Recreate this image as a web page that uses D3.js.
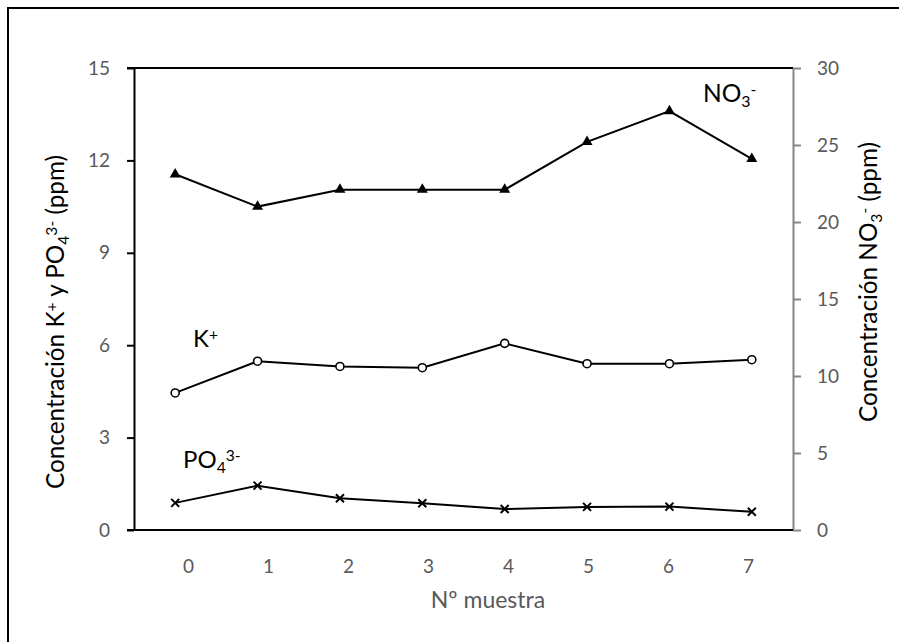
<!DOCTYPE html>
<html>
<head>
<meta charset="utf-8">
<script src="https://cdn.jsdelivr.net/npm/d3@7"></script>
<style>
  html, body { margin: 0; padding: 0; background: #fff; }
  svg { display: block; font-family: Lato, "Open Sans", sans-serif; }
</style>
</head>
<body>
<svg id="chart" width="899" height="642"></svg>
<script>
// Sample numbers along the x axis
const samples = ["0", "1", "2", "3", "4", "5", "6", "7"];
// K+ and PO4(3-) concentrations, ppm (left axis)
const kValues = [4.45, 5.48, 5.31, 5.27, 6.06, 5.40, 5.40, 5.53];
const po4Values = [0.88, 1.44, 1.03, 0.87, 0.68, 0.75, 0.76, 0.59];
// NO3(-) concentration, ppm (right axis)
const no3Values = [23.1, 21.0, 22.1, 22.1, 22.1, 25.2, 27.2, 24.1];
// Axis ticks
const leftTicks = [0, 3, 6, 9, 12, 15];
const rightTicks = [0, 5, 10, 15, 20, 25, 30];

const svg = d3.select("#chart");
const plot = { left: 134, right: 793, top: 68, bottom: 530 };
const GRAY = "#595959";
const AXIS_GRAY = "#868686";
const TICK_FONT = "19px";

// Outer chart frame
svg.append("rect")
  .attr("x", 8).attr("y", 8)
  .attr("width", 1000).attr("height", 1000)
  .attr("fill", "none").attr("stroke", "#000").attr("stroke-width", 2);

const x = d3.scaleBand().domain(samples).range([plot.left, plot.right]);
// Category labels sit on their own slightly narrower spread
const xLabel = d3.scalePoint().domain(samples).range([188, 748]);
const yL = d3.scaleLinear().domain([0, 15]).range([plot.bottom, plot.top]);
const yR = d3.scaleLinear().domain([0, 30]).range([plot.bottom, plot.top]);
const cx = d => x(d) + x.bandwidth() / 2;

// Top edge of plot area
svg.append("line")
  .attr("x1", plot.left - 7).attr("x2", plot.right)
  .attr("y1", plot.top).attr("y2", plot.top)
  .attr("stroke", "#000").attr("stroke-width", 2);

// Left axis
const gL = svg.append("g").attr("transform", `translate(${plot.left},0)`)
  .call(d3.axisLeft(yL).tickValues(leftTicks).tickSize(7).tickSizeOuter(0).tickPadding(17));
gL.select(".domain").attr("stroke", "#000").attr("stroke-width", 2);
gL.selectAll(".tick line").attr("stroke", "#000").attr("stroke-width", 2);
gL.selectAll(".tick text").attr("fill", GRAY).style("font-size", TICK_FONT).style("font-family", "Lato");

// Right axis
const gR = svg.append("g").attr("transform", `translate(${plot.right},0)`)
  .call(d3.axisRight(yR).tickValues(rightTicks).tickSize(8).tickSizeOuter(0).tickPadding(16));
gR.select(".domain").attr("stroke", AXIS_GRAY).attr("stroke-width", 2);
gR.selectAll(".tick line").attr("stroke", AXIS_GRAY).attr("stroke-width", 2);
gR.selectAll(".tick text").attr("fill", GRAY).style("font-size", TICK_FONT).style("font-family", "Lato");

// Bottom axis (labels only; the line is drawn separately)
const gB = svg.append("g").attr("transform", `translate(0,${plot.bottom})`)
  .call(d3.axisBottom(xLabel).tickSize(0).tickPadding(30));
gB.select(".domain").remove();
gB.selectAll(".tick text").attr("fill", GRAY).style("font-size", TICK_FONT).style("font-family", "Lato");
svg.append("line")
  .attr("x1", plot.left - 7).attr("x2", plot.right)
  .attr("y1", plot.bottom).attr("y2", plot.bottom)
  .attr("stroke", "#000").attr("stroke-width", 2);

// Series lines
const lineL = d3.line().x((d, i) => cx(samples[i])).y(d => yL(d));
const lineR = d3.line().x((d, i) => cx(samples[i])).y(d => yR(d));
[[no3Values, lineR], [kValues, lineL], [po4Values, lineL]].forEach(([vals, gen]) => {
  svg.append("path").datum(vals)
    .attr("d", gen).attr("fill", "none")
    .attr("stroke", "#000").attr("stroke-width", 2);
});

// NO3 markers: filled triangles
svg.append("g").selectAll("path").data(no3Values).join("path")
  .attr("transform", (d, i) => `translate(${cx(samples[i])},${yR(d)})`)
  .attr("d", d3.symbol(d3.symbolTriangle, 52))
  .attr("fill", "#000");

// K markers: open circles
svg.append("g").selectAll("circle").data(kValues).join("circle")
  .attr("cx", (d, i) => cx(samples[i])).attr("cy", d => yL(d))
  .attr("r", 4).attr("fill", "#fff").attr("stroke", "#000").attr("stroke-width", 1.6);

// PO4 markers: crosses
svg.append("g").selectAll("path").data(po4Values).join("path")
  .attr("transform", (d, i) => `translate(${cx(samples[i])},${yL(d)})`)
  .attr("d", "M-4,-4L4,4M-4,4L4,-4")
  .attr("stroke", "#000").attr("stroke-width", 2).attr("fill", "none");

// Series labels
function label(xp, yp, parts, size) {
  const t = svg.append("text").attr("x", xp).attr("y", yp)
    .style("font-size", size + "px").attr("fill", "#000");
  parts.forEach(p => {
    const s = t.append("tspan").text(p.t);
    if (p.sub) s.attr("baseline-shift", "-30%").style("font-size", (size * 0.65) + "px");
    if (p.sup) s.attr("baseline-shift", "45%").style("font-size", (size * 0.65) + "px");
  });
  return t;
}
label(703, 102, [{ t: "NO" }, { t: "3", sub: true }, { t: "-", sup: true }], 24.5);
label(193, 347, [{ t: "K" }, { t: "+", sup: true }], 24);
label(183, 468, [{ t: "PO" }, { t: "4", sub: true }, { t: "3-", sup: true }], 24);

// Axis titles
svg.append("text")
  .attr("x", 488).attr("y", 608)
  .attr("text-anchor", "middle").attr("fill", GRAY)
  .style("font-size", "23px").text("Nº muestra");

const TITLE = 24.3, SMALL = TITLE * 0.64;
const lt = svg.append("text")
  .attr("transform", "translate(64,322) rotate(-90)")
  .attr("text-anchor", "middle").attr("fill", "#000").style("font-size", TITLE + "px");
lt.append("tspan").text("Concentración K");
lt.append("tspan").text("+").attr("baseline-shift", "45%").style("font-size", SMALL + "px");
lt.append("tspan").text(" y PO");
lt.append("tspan").text("4").attr("baseline-shift", "-30%").style("font-size", SMALL + "px");
lt.append("tspan").text("3-").attr("baseline-shift", "45%").style("font-size", SMALL + "px");
lt.append("tspan").text(" (ppm)");

const rt = svg.append("text")
  .attr("transform", "translate(877,282) rotate(-90)")
  .attr("text-anchor", "middle").attr("fill", "#000").style("font-size", TITLE + "px");
rt.append("tspan").text("Concentración NO");
rt.append("tspan").text("3").attr("baseline-shift", "-30%").style("font-size", SMALL + "px");
rt.append("tspan").text("-").attr("baseline-shift", "45%").style("font-size", SMALL + "px");
rt.append("tspan").text(" (ppm)");
</script>
</body>
</html>
